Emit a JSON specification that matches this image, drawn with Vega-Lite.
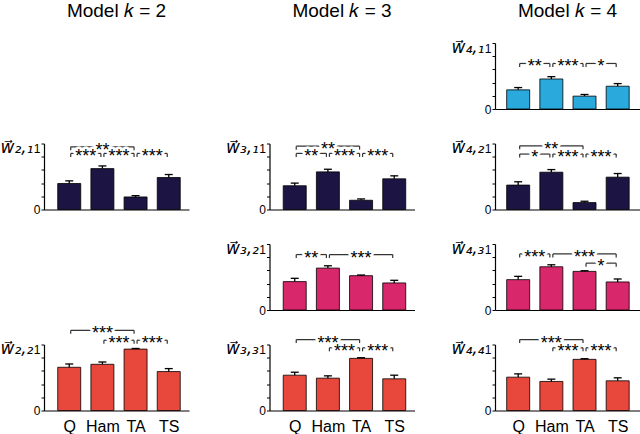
{
  "$schema": "https://vega.github.io/schema/vega-lite/v6.json",
  "padding": {"left": 0, "top": 1.5, "right": 0, "bottom": 0},
  "background": "white",
  "bounds": "flush",
  "columns": 3,
  "spacing": {"row": 34.5, "column": 80.5},
  "datasets": {
    "bars": [
      {"p": "2_1", "m": "Q", "mean": 0.394, "hi": 0.434},
      {"p": "2_1", "m": "Ham", "mean": 0.62, "hi": 0.66},
      {"p": "2_1", "m": "TA", "mean": 0.19, "hi": 0.21},
      {"p": "2_1", "m": "TS", "mean": 0.485, "hi": 0.53},
      {"p": "2_2", "m": "Q", "mean": 0.655, "hi": 0.705},
      {"p": "2_2", "m": "Ham", "mean": 0.70, "hi": 0.735},
      {"p": "2_2", "m": "TA", "mean": 0.93, "hi": 0.94},
      {"p": "2_2", "m": "TS", "mean": 0.59, "hi": 0.635},
      {"p": "3_1", "m": "Q", "mean": 0.36, "hi": 0.40},
      {"p": "3_1", "m": "Ham", "mean": 0.57, "hi": 0.61},
      {"p": "3_1", "m": "TA", "mean": 0.14, "hi": 0.16},
      {"p": "3_1", "m": "TS", "mean": 0.465, "hi": 0.51},
      {"p": "3_2", "m": "Q", "mean": 0.43, "hi": 0.48},
      {"p": "3_2", "m": "Ham", "mean": 0.635, "hi": 0.67},
      {"p": "3_2", "m": "TA", "mean": 0.52, "hi": 0.53},
      {"p": "3_2", "m": "TS", "mean": 0.41, "hi": 0.45},
      {"p": "3_3", "m": "Q", "mean": 0.535, "hi": 0.58},
      {"p": "3_3", "m": "Ham", "mean": 0.49, "hi": 0.525},
      {"p": "3_3", "m": "TA", "mean": 0.79, "hi": 0.80},
      {"p": "3_3", "m": "TS", "mean": 0.48, "hi": 0.535},
      {"p": "4_1", "m": "Q", "mean": 0.29, "hi": 0.325},
      {"p": "4_1", "m": "Ham", "mean": 0.455, "hi": 0.49},
      {"p": "4_1", "m": "TA", "mean": 0.195, "hi": 0.22},
      {"p": "4_1", "m": "TS", "mean": 0.345, "hi": 0.385},
      {"p": "4_2", "m": "Q", "mean": 0.37, "hi": 0.42},
      {"p": "4_2", "m": "Ham", "mean": 0.565, "hi": 0.605},
      {"p": "4_2", "m": "TA", "mean": 0.105, "hi": 0.125},
      {"p": "4_2", "m": "TS", "mean": 0.49, "hi": 0.545},
      {"p": "4_3", "m": "Q", "mean": 0.46, "hi": 0.51},
      {"p": "4_3", "m": "Ham", "mean": 0.655, "hi": 0.685},
      {"p": "4_3", "m": "TA", "mean": 0.585, "hi": 0.595},
      {"p": "4_3", "m": "TS", "mean": 0.425, "hi": 0.47},
      {"p": "4_4", "m": "Q", "mean": 0.505, "hi": 0.555},
      {"p": "4_4", "m": "Ham", "mean": 0.44, "hi": 0.475},
      {"p": "4_4", "m": "TA", "mean": 0.775, "hi": 0.785},
      {"p": "4_4", "m": "TS", "mean": 0.45, "hi": 0.495}
    ],
    "brackets": [
      {"p": "2_1", "a": "Q", "b": "TA", "lvl": 0.95, "s": "**"},
      {"p": "2_1", "a": "Q", "b": "Ham", "lvl": 0.85, "s": "***"},
      {"p": "2_1", "a": "Ham", "b": "TA", "lvl": 0.85, "s": "***"},
      {"p": "2_1", "a": "TA", "b": "TS", "lvl": 0.85, "s": "***"},
      {"p": "2_2", "a": "Q", "b": "TA", "lvl": 1.215, "s": "***"},
      {"p": "2_2", "a": "Ham", "b": "TA", "lvl": 1.065, "s": "***"},
      {"p": "2_2", "a": "TA", "b": "TS", "lvl": 1.065, "s": "***"},
      {"p": "3_1", "a": "Q", "b": "TA", "lvl": 0.96, "s": "**"},
      {"p": "3_1", "a": "Q", "b": "Ham", "lvl": 0.85, "s": "**"},
      {"p": "3_1", "a": "Ham", "b": "TA", "lvl": 0.85, "s": "***"},
      {"p": "3_1", "a": "TA", "b": "TS", "lvl": 0.85, "s": "***"},
      {"p": "3_2", "a": "Q", "b": "Ham", "lvl": 0.84, "s": "**"},
      {"p": "3_2", "a": "Ham", "b": "TS", "lvl": 0.84, "s": "***"},
      {"p": "3_3", "a": "Q", "b": "TA", "lvl": 1.075, "s": "***"},
      {"p": "3_3", "a": "Ham", "b": "TA", "lvl": 0.95, "s": "***"},
      {"p": "3_3", "a": "TA", "b": "TS", "lvl": 0.95, "s": "***"},
      {"p": "4_1", "a": "Q", "b": "Ham", "lvl": 0.69, "s": "**"},
      {"p": "4_1", "a": "Ham", "b": "TA", "lvl": 0.69, "s": "***"},
      {"p": "4_1", "a": "TA", "b": "TS", "lvl": 0.69, "s": "*"},
      {"p": "4_2", "a": "Q", "b": "TA", "lvl": 0.965, "s": "**"},
      {"p": "4_2", "a": "Q", "b": "Ham", "lvl": 0.84, "s": "*"},
      {"p": "4_2", "a": "Ham", "b": "TA", "lvl": 0.84, "s": "***"},
      {"p": "4_2", "a": "TA", "b": "TS", "lvl": 0.84, "s": "***"},
      {"p": "4_3", "a": "Q", "b": "Ham", "lvl": 0.85, "s": "***"},
      {"p": "4_3", "a": "Ham", "b": "TS", "lvl": 0.85, "s": "***"},
      {"p": "4_3", "a": "TA", "b": "TS", "lvl": 0.71, "s": "*"},
      {"p": "4_4", "a": "Q", "b": "TA", "lvl": 1.075, "s": "***"},
      {"p": "4_4", "a": "Ham", "b": "TA", "lvl": 0.95, "s": "***"},
      {"p": "4_4", "a": "TA", "b": "TS", "lvl": 0.95, "s": "***"}
    ]
  },
  "concat": [
    {"width": 145, "height": 1, "data": {"values": [{"z": 1}]}, "mark": {"type": "text", "text": "Model \ud835\udc58 = 2", "fontSize": 19, "baseline": "middle", "dy": 3, "color": "black"}},
    {"width": 145, "height": 1, "data": {"values": [{"z": 1}]}, "mark": {"type": "text", "text": "Model \ud835\udc58 = 3", "fontSize": 19, "baseline": "middle", "dy": 3, "color": "black"}},
    {"width": 145, "height": 1, "data": {"values": [{"z": 1}]}, "mark": {"type": "text", "text": "Model \ud835\udc58 = 4", "fontSize": 19, "baseline": "middle", "dy": 3, "color": "black"}},
    {"width": 145, "height": 66, "data": {"values": [{"z": 1}]}, "mark": {"type": "text", "text": ""}},
    {"width": 145, "height": 66, "data": {"values": [{"z": 1}]}, "mark": {"type": "text", "text": ""}},
    {"width": 145, "height": 66,
     "layer": [
      {"data": {"name": "bars"},
       "transform": [{"filter": "datum.p=='4_1'"}, {"calculate": "indexof(['Q','Ham','TA','TS'],datum.m)+1", "as": "xi"}],
       "encoding": {"x": {"field": "xi", "type": "quantitative", "scale": {"domain": [0.452, 4.522], "nice": false, "zero": false}, "axis": {"title": null}}},
       "layer": [
        {"mark": {"type": "bar", "orient": "vertical", "width": 23, "stroke": "black", "strokeWidth": 0.8, "color": "#29a9dc"},
         "encoding": {"y": {"field": "mean", "type": "quantitative", "scale": {"domain": [0, 1], "nice": false}, "axis": {"title": "w\u20d7\u2084,\u2081"}}}},
        {"mark": {"type": "rule", "color": "black", "strokeWidth": 1.3}, "encoding": {"y": {"field": "mean", "type": "quantitative"}, "y2": {"field": "hi"}}},
        {"mark": {"type": "rule", "color": "black", "strokeWidth": 1.3, "xOffset": -4, "x2Offset": 4}, "encoding": {"x2": {"field": "xi"}, "y": {"field": "hi", "type": "quantitative"}}}
       ]},
      {"data": {"name": "brackets"},
       "transform": [{"filter": "datum.p=='4_1'"}, {"calculate": "indexof(['Q','Ham','TA','TS'],datum.a)+1", "as": "ai"}, {"calculate": "indexof(['Q','Ham','TA','TS'],datum.b)+1", "as": "bi"}, {"calculate": "(datum.ai+datum.bi)/2", "as": "mi"}],
       "encoding": {"y": {"field": "lvl", "type": "quantitative"}},
       "layer": [
        {"mark": {"type": "rule", "xOffset": 1.5, "x2Offset": -1.5}, "encoding": {"x": {"field": "ai", "type": "quantitative"}, "x2": {"field": "bi"}}},
        {"mark": {"type": "rule", "xOffset": 1.5, "y2Offset": 3.5}, "encoding": {"x": {"field": "ai", "type": "quantitative"}, "y2": {"field": "lvl"}}},
        {"mark": {"type": "rule", "xOffset": -1.5, "y2Offset": 3.5}, "encoding": {"x": {"field": "bi", "type": "quantitative"}, "y2": {"field": "lvl"}}},
        {"mark": {"type": "text", "fill": "white", "stroke": "white", "strokeWidth": 5, "strokeJoin": "round"}, "encoding": {"x": {"field": "mi", "type": "quantitative"}, "text": {"field": "s"}}},
        {"mark": {"type": "text", "fill": "black"}, "encoding": {"x": {"field": "mi", "type": "quantitative"}, "text": {"field": "s"}}}
       ]}
     ]},
    {"width": 145, "height": 66,
     "layer": [
      {"data": {"name": "bars"},
       "transform": [{"filter": "datum.p=='2_1'"}, {"calculate": "indexof(['Q','Ham','TA','TS'],datum.m)+1", "as": "xi"}],
       "encoding": {"x": {"field": "xi", "type": "quantitative", "scale": {"domain": [0.39, 4.46], "nice": false, "zero": false}, "axis": {"title": null}}},
       "layer": [
        {"mark": {"type": "bar", "orient": "vertical", "width": 23, "stroke": "black", "strokeWidth": 0.8, "color": "#1c1443"},
         "encoding": {"y": {"field": "mean", "type": "quantitative", "scale": {"domain": [0, 1], "nice": false}, "axis": {"title": "w\u20d7\u2082,\u2081"}}}},
        {"mark": {"type": "rule", "color": "black", "strokeWidth": 1.3}, "encoding": {"y": {"field": "mean", "type": "quantitative"}, "y2": {"field": "hi"}}},
        {"mark": {"type": "rule", "color": "black", "strokeWidth": 1.3, "xOffset": -4, "x2Offset": 4}, "encoding": {"x2": {"field": "xi"}, "y": {"field": "hi", "type": "quantitative"}}}
       ]},
      {"data": {"name": "brackets"},
       "transform": [{"filter": "datum.p=='2_1'"}, {"calculate": "indexof(['Q','Ham','TA','TS'],datum.a)+1", "as": "ai"}, {"calculate": "indexof(['Q','Ham','TA','TS'],datum.b)+1", "as": "bi"}, {"calculate": "(datum.ai+datum.bi)/2", "as": "mi"}],
       "encoding": {"y": {"field": "lvl", "type": "quantitative"}},
       "layer": [
        {"mark": {"type": "rule", "xOffset": 1.5, "x2Offset": -1.5}, "encoding": {"x": {"field": "ai", "type": "quantitative"}, "x2": {"field": "bi"}}},
        {"mark": {"type": "rule", "xOffset": 1.5, "y2Offset": 3.5}, "encoding": {"x": {"field": "ai", "type": "quantitative"}, "y2": {"field": "lvl"}}},
        {"mark": {"type": "rule", "xOffset": -1.5, "y2Offset": 3.5}, "encoding": {"x": {"field": "bi", "type": "quantitative"}, "y2": {"field": "lvl"}}},
        {"mark": {"type": "text", "fill": "white", "stroke": "white", "strokeWidth": 5, "strokeJoin": "round"}, "encoding": {"x": {"field": "mi", "type": "quantitative"}, "text": {"field": "s"}}},
        {"mark": {"type": "text", "fill": "black"}, "encoding": {"x": {"field": "mi", "type": "quantitative"}, "text": {"field": "s"}}}
       ]}
     ]},
    {"width": 145, "height": 66,
     "layer": [
      {"data": {"name": "bars"},
       "transform": [{"filter": "datum.p=='3_1'"}, {"calculate": "indexof(['Q','Ham','TA','TS'],datum.m)+1", "as": "xi"}],
       "encoding": {"x": {"field": "xi", "type": "quantitative", "scale": {"domain": [0.39, 4.46], "nice": false, "zero": false}, "axis": {"title": null}}},
       "layer": [
        {"mark": {"type": "bar", "orient": "vertical", "width": 23, "stroke": "black", "strokeWidth": 0.8, "color": "#1c1443"},
         "encoding": {"y": {"field": "mean", "type": "quantitative", "scale": {"domain": [0, 1], "nice": false}, "axis": {"title": "w\u20d7\u2083,\u2081"}}}},
        {"mark": {"type": "rule", "color": "black", "strokeWidth": 1.3}, "encoding": {"y": {"field": "mean", "type": "quantitative"}, "y2": {"field": "hi"}}},
        {"mark": {"type": "rule", "color": "black", "strokeWidth": 1.3, "xOffset": -4, "x2Offset": 4}, "encoding": {"x2": {"field": "xi"}, "y": {"field": "hi", "type": "quantitative"}}}
       ]},
      {"data": {"name": "brackets"},
       "transform": [{"filter": "datum.p=='3_1'"}, {"calculate": "indexof(['Q','Ham','TA','TS'],datum.a)+1", "as": "ai"}, {"calculate": "indexof(['Q','Ham','TA','TS'],datum.b)+1", "as": "bi"}, {"calculate": "(datum.ai+datum.bi)/2", "as": "mi"}],
       "encoding": {"y": {"field": "lvl", "type": "quantitative"}},
       "layer": [
        {"mark": {"type": "rule", "xOffset": 1.5, "x2Offset": -1.5}, "encoding": {"x": {"field": "ai", "type": "quantitative"}, "x2": {"field": "bi"}}},
        {"mark": {"type": "rule", "xOffset": 1.5, "y2Offset": 3.5}, "encoding": {"x": {"field": "ai", "type": "quantitative"}, "y2": {"field": "lvl"}}},
        {"mark": {"type": "rule", "xOffset": -1.5, "y2Offset": 3.5}, "encoding": {"x": {"field": "bi", "type": "quantitative"}, "y2": {"field": "lvl"}}},
        {"mark": {"type": "text", "fill": "white", "stroke": "white", "strokeWidth": 5, "strokeJoin": "round"}, "encoding": {"x": {"field": "mi", "type": "quantitative"}, "text": {"field": "s"}}},
        {"mark": {"type": "text", "fill": "black"}, "encoding": {"x": {"field": "mi", "type": "quantitative"}, "text": {"field": "s"}}}
       ]}
     ]},
    {"width": 145, "height": 66,
     "layer": [
      {"data": {"name": "bars"},
       "transform": [{"filter": "datum.p=='4_2'"}, {"calculate": "indexof(['Q','Ham','TA','TS'],datum.m)+1", "as": "xi"}],
       "encoding": {"x": {"field": "xi", "type": "quantitative", "scale": {"domain": [0.452, 4.522], "nice": false, "zero": false}, "axis": {"title": null}}},
       "layer": [
        {"mark": {"type": "bar", "orient": "vertical", "width": 23, "stroke": "black", "strokeWidth": 0.8, "color": "#1c1443"},
         "encoding": {"y": {"field": "mean", "type": "quantitative", "scale": {"domain": [0, 1], "nice": false}, "axis": {"title": "w\u20d7\u2084,\u2082"}}}},
        {"mark": {"type": "rule", "color": "black", "strokeWidth": 1.3}, "encoding": {"y": {"field": "mean", "type": "quantitative"}, "y2": {"field": "hi"}}},
        {"mark": {"type": "rule", "color": "black", "strokeWidth": 1.3, "xOffset": -4, "x2Offset": 4}, "encoding": {"x2": {"field": "xi"}, "y": {"field": "hi", "type": "quantitative"}}}
       ]},
      {"data": {"name": "brackets"},
       "transform": [{"filter": "datum.p=='4_2'"}, {"calculate": "indexof(['Q','Ham','TA','TS'],datum.a)+1", "as": "ai"}, {"calculate": "indexof(['Q','Ham','TA','TS'],datum.b)+1", "as": "bi"}, {"calculate": "(datum.ai+datum.bi)/2", "as": "mi"}],
       "encoding": {"y": {"field": "lvl", "type": "quantitative"}},
       "layer": [
        {"mark": {"type": "rule", "xOffset": 1.5, "x2Offset": -1.5}, "encoding": {"x": {"field": "ai", "type": "quantitative"}, "x2": {"field": "bi"}}},
        {"mark": {"type": "rule", "xOffset": 1.5, "y2Offset": 3.5}, "encoding": {"x": {"field": "ai", "type": "quantitative"}, "y2": {"field": "lvl"}}},
        {"mark": {"type": "rule", "xOffset": -1.5, "y2Offset": 3.5}, "encoding": {"x": {"field": "bi", "type": "quantitative"}, "y2": {"field": "lvl"}}},
        {"mark": {"type": "text", "fill": "white", "stroke": "white", "strokeWidth": 5, "strokeJoin": "round"}, "encoding": {"x": {"field": "mi", "type": "quantitative"}, "text": {"field": "s"}}},
        {"mark": {"type": "text", "fill": "black"}, "encoding": {"x": {"field": "mi", "type": "quantitative"}, "text": {"field": "s"}}}
       ]}
     ]},
    {"width": 145, "height": 66, "data": {"values": [{"z": 1}]}, "mark": {"type": "text", "text": ""}},
    {"width": 145, "height": 66,
     "layer": [
      {"data": {"name": "bars"},
       "transform": [{"filter": "datum.p=='3_2'"}, {"calculate": "indexof(['Q','Ham','TA','TS'],datum.m)+1", "as": "xi"}],
       "encoding": {"x": {"field": "xi", "type": "quantitative", "scale": {"domain": [0.39, 4.46], "nice": false, "zero": false}, "axis": {"title": null}}},
       "layer": [
        {"mark": {"type": "bar", "orient": "vertical", "width": 23, "stroke": "black", "strokeWidth": 0.8, "color": "#d8276b"},
         "encoding": {"y": {"field": "mean", "type": "quantitative", "scale": {"domain": [0, 1], "nice": false}, "axis": {"title": "w\u20d7\u2083,\u2082"}}}},
        {"mark": {"type": "rule", "color": "black", "strokeWidth": 1.3}, "encoding": {"y": {"field": "mean", "type": "quantitative"}, "y2": {"field": "hi"}}},
        {"mark": {"type": "rule", "color": "black", "strokeWidth": 1.3, "xOffset": -4, "x2Offset": 4}, "encoding": {"x2": {"field": "xi"}, "y": {"field": "hi", "type": "quantitative"}}}
       ]},
      {"data": {"name": "brackets"},
       "transform": [{"filter": "datum.p=='3_2'"}, {"calculate": "indexof(['Q','Ham','TA','TS'],datum.a)+1", "as": "ai"}, {"calculate": "indexof(['Q','Ham','TA','TS'],datum.b)+1", "as": "bi"}, {"calculate": "(datum.ai+datum.bi)/2", "as": "mi"}],
       "encoding": {"y": {"field": "lvl", "type": "quantitative"}},
       "layer": [
        {"mark": {"type": "rule", "xOffset": 1.5, "x2Offset": -1.5}, "encoding": {"x": {"field": "ai", "type": "quantitative"}, "x2": {"field": "bi"}}},
        {"mark": {"type": "rule", "xOffset": 1.5, "y2Offset": 3.5}, "encoding": {"x": {"field": "ai", "type": "quantitative"}, "y2": {"field": "lvl"}}},
        {"mark": {"type": "rule", "xOffset": -1.5, "y2Offset": 3.5}, "encoding": {"x": {"field": "bi", "type": "quantitative"}, "y2": {"field": "lvl"}}},
        {"mark": {"type": "text", "fill": "white", "stroke": "white", "strokeWidth": 5, "strokeJoin": "round"}, "encoding": {"x": {"field": "mi", "type": "quantitative"}, "text": {"field": "s"}}},
        {"mark": {"type": "text", "fill": "black"}, "encoding": {"x": {"field": "mi", "type": "quantitative"}, "text": {"field": "s"}}}
       ]}
     ]},
    {"width": 145, "height": 66,
     "layer": [
      {"data": {"name": "bars"},
       "transform": [{"filter": "datum.p=='4_3'"}, {"calculate": "indexof(['Q','Ham','TA','TS'],datum.m)+1", "as": "xi"}],
       "encoding": {"x": {"field": "xi", "type": "quantitative", "scale": {"domain": [0.452, 4.522], "nice": false, "zero": false}, "axis": {"title": null}}},
       "layer": [
        {"mark": {"type": "bar", "orient": "vertical", "width": 23, "stroke": "black", "strokeWidth": 0.8, "color": "#d8276b"},
         "encoding": {"y": {"field": "mean", "type": "quantitative", "scale": {"domain": [0, 1], "nice": false}, "axis": {"title": "w\u20d7\u2084,\u2083"}}}},
        {"mark": {"type": "rule", "color": "black", "strokeWidth": 1.3}, "encoding": {"y": {"field": "mean", "type": "quantitative"}, "y2": {"field": "hi"}}},
        {"mark": {"type": "rule", "color": "black", "strokeWidth": 1.3, "xOffset": -4, "x2Offset": 4}, "encoding": {"x2": {"field": "xi"}, "y": {"field": "hi", "type": "quantitative"}}}
       ]},
      {"data": {"name": "brackets"},
       "transform": [{"filter": "datum.p=='4_3'"}, {"calculate": "indexof(['Q','Ham','TA','TS'],datum.a)+1", "as": "ai"}, {"calculate": "indexof(['Q','Ham','TA','TS'],datum.b)+1", "as": "bi"}, {"calculate": "(datum.ai+datum.bi)/2", "as": "mi"}],
       "encoding": {"y": {"field": "lvl", "type": "quantitative"}},
       "layer": [
        {"mark": {"type": "rule", "xOffset": 1.5, "x2Offset": -1.5}, "encoding": {"x": {"field": "ai", "type": "quantitative"}, "x2": {"field": "bi"}}},
        {"mark": {"type": "rule", "xOffset": 1.5, "y2Offset": 3.5}, "encoding": {"x": {"field": "ai", "type": "quantitative"}, "y2": {"field": "lvl"}}},
        {"mark": {"type": "rule", "xOffset": -1.5, "y2Offset": 3.5}, "encoding": {"x": {"field": "bi", "type": "quantitative"}, "y2": {"field": "lvl"}}},
        {"mark": {"type": "text", "fill": "white", "stroke": "white", "strokeWidth": 5, "strokeJoin": "round"}, "encoding": {"x": {"field": "mi", "type": "quantitative"}, "text": {"field": "s"}}},
        {"mark": {"type": "text", "fill": "black"}, "encoding": {"x": {"field": "mi", "type": "quantitative"}, "text": {"field": "s"}}}
       ]}
     ]},
    {"width": 145, "height": 66,
     "layer": [
      {"data": {"name": "bars"},
       "transform": [{"filter": "datum.p=='2_2'"}, {"calculate": "indexof(['Q','Ham','TA','TS'],datum.m)+1", "as": "xi"}],
       "encoding": {"x": {"field": "xi", "type": "quantitative", "scale": {"domain": [0.39, 4.46], "nice": false, "zero": false}, "axis": {"title": null, "labels": true, "values": [1, 2, 3, 4], "labelExpr": "['','Q','Ham','TA','TS'][datum.value]"}}},
       "layer": [
        {"mark": {"type": "bar", "orient": "vertical", "width": 23, "stroke": "black", "strokeWidth": 0.8, "color": "#e8473b"},
         "encoding": {"y": {"field": "mean", "type": "quantitative", "scale": {"domain": [0, 1], "nice": false}, "axis": {"title": "w\u20d7\u2082,\u2082"}}}},
        {"mark": {"type": "rule", "color": "black", "strokeWidth": 1.3}, "encoding": {"y": {"field": "mean", "type": "quantitative"}, "y2": {"field": "hi"}}},
        {"mark": {"type": "rule", "color": "black", "strokeWidth": 1.3, "xOffset": -4, "x2Offset": 4}, "encoding": {"x2": {"field": "xi"}, "y": {"field": "hi", "type": "quantitative"}}}
       ]},
      {"data": {"name": "brackets"},
       "transform": [{"filter": "datum.p=='2_2'"}, {"calculate": "indexof(['Q','Ham','TA','TS'],datum.a)+1", "as": "ai"}, {"calculate": "indexof(['Q','Ham','TA','TS'],datum.b)+1", "as": "bi"}, {"calculate": "(datum.ai+datum.bi)/2", "as": "mi"}],
       "encoding": {"y": {"field": "lvl", "type": "quantitative"}},
       "layer": [
        {"mark": {"type": "rule", "xOffset": 1.5, "x2Offset": -1.5}, "encoding": {"x": {"field": "ai", "type": "quantitative"}, "x2": {"field": "bi"}}},
        {"mark": {"type": "rule", "xOffset": 1.5, "y2Offset": 3.5}, "encoding": {"x": {"field": "ai", "type": "quantitative"}, "y2": {"field": "lvl"}}},
        {"mark": {"type": "rule", "xOffset": -1.5, "y2Offset": 3.5}, "encoding": {"x": {"field": "bi", "type": "quantitative"}, "y2": {"field": "lvl"}}},
        {"mark": {"type": "text", "fill": "white", "stroke": "white", "strokeWidth": 5, "strokeJoin": "round"}, "encoding": {"x": {"field": "mi", "type": "quantitative"}, "text": {"field": "s"}}},
        {"mark": {"type": "text", "fill": "black"}, "encoding": {"x": {"field": "mi", "type": "quantitative"}, "text": {"field": "s"}}}
       ]}
     ]},
    {"width": 145, "height": 66,
     "layer": [
      {"data": {"name": "bars"},
       "transform": [{"filter": "datum.p=='3_3'"}, {"calculate": "indexof(['Q','Ham','TA','TS'],datum.m)+1", "as": "xi"}],
       "encoding": {"x": {"field": "xi", "type": "quantitative", "scale": {"domain": [0.39, 4.46], "nice": false, "zero": false}, "axis": {"title": null, "labels": true, "values": [1, 2, 3, 4], "labelExpr": "['','Q','Ham','TA','TS'][datum.value]"}}},
       "layer": [
        {"mark": {"type": "bar", "orient": "vertical", "width": 23, "stroke": "black", "strokeWidth": 0.8, "color": "#e8473b"},
         "encoding": {"y": {"field": "mean", "type": "quantitative", "scale": {"domain": [0, 1], "nice": false}, "axis": {"title": "w\u20d7\u2083,\u2083"}}}},
        {"mark": {"type": "rule", "color": "black", "strokeWidth": 1.3}, "encoding": {"y": {"field": "mean", "type": "quantitative"}, "y2": {"field": "hi"}}},
        {"mark": {"type": "rule", "color": "black", "strokeWidth": 1.3, "xOffset": -4, "x2Offset": 4}, "encoding": {"x2": {"field": "xi"}, "y": {"field": "hi", "type": "quantitative"}}}
       ]},
      {"data": {"name": "brackets"},
       "transform": [{"filter": "datum.p=='3_3'"}, {"calculate": "indexof(['Q','Ham','TA','TS'],datum.a)+1", "as": "ai"}, {"calculate": "indexof(['Q','Ham','TA','TS'],datum.b)+1", "as": "bi"}, {"calculate": "(datum.ai+datum.bi)/2", "as": "mi"}],
       "encoding": {"y": {"field": "lvl", "type": "quantitative"}},
       "layer": [
        {"mark": {"type": "rule", "xOffset": 1.5, "x2Offset": -1.5}, "encoding": {"x": {"field": "ai", "type": "quantitative"}, "x2": {"field": "bi"}}},
        {"mark": {"type": "rule", "xOffset": 1.5, "y2Offset": 3.5}, "encoding": {"x": {"field": "ai", "type": "quantitative"}, "y2": {"field": "lvl"}}},
        {"mark": {"type": "rule", "xOffset": -1.5, "y2Offset": 3.5}, "encoding": {"x": {"field": "bi", "type": "quantitative"}, "y2": {"field": "lvl"}}},
        {"mark": {"type": "text", "fill": "white", "stroke": "white", "strokeWidth": 5, "strokeJoin": "round"}, "encoding": {"x": {"field": "mi", "type": "quantitative"}, "text": {"field": "s"}}},
        {"mark": {"type": "text", "fill": "black"}, "encoding": {"x": {"field": "mi", "type": "quantitative"}, "text": {"field": "s"}}}
       ]}
     ]},
    {"width": 145, "height": 66,
     "layer": [
      {"data": {"name": "bars"},
       "transform": [{"filter": "datum.p=='4_4'"}, {"calculate": "indexof(['Q','Ham','TA','TS'],datum.m)+1", "as": "xi"}],
       "encoding": {"x": {"field": "xi", "type": "quantitative", "scale": {"domain": [0.452, 4.522], "nice": false, "zero": false}, "axis": {"title": null, "labels": true, "values": [1, 2, 3, 4], "labelExpr": "['','Q','Ham','TA','TS'][datum.value]"}}},
       "layer": [
        {"mark": {"type": "bar", "orient": "vertical", "width": 23, "stroke": "black", "strokeWidth": 0.8, "color": "#e8473b"},
         "encoding": {"y": {"field": "mean", "type": "quantitative", "scale": {"domain": [0, 1], "nice": false}, "axis": {"title": "w\u20d7\u2084,\u2084"}}}},
        {"mark": {"type": "rule", "color": "black", "strokeWidth": 1.3}, "encoding": {"y": {"field": "mean", "type": "quantitative"}, "y2": {"field": "hi"}}},
        {"mark": {"type": "rule", "color": "black", "strokeWidth": 1.3, "xOffset": -4, "x2Offset": 4}, "encoding": {"x2": {"field": "xi"}, "y": {"field": "hi", "type": "quantitative"}}}
       ]},
      {"data": {"name": "brackets"},
       "transform": [{"filter": "datum.p=='4_4'"}, {"calculate": "indexof(['Q','Ham','TA','TS'],datum.a)+1", "as": "ai"}, {"calculate": "indexof(['Q','Ham','TA','TS'],datum.b)+1", "as": "bi"}, {"calculate": "(datum.ai+datum.bi)/2", "as": "mi"}],
       "encoding": {"y": {"field": "lvl", "type": "quantitative"}},
       "layer": [
        {"mark": {"type": "rule", "xOffset": 1.5, "x2Offset": -1.5}, "encoding": {"x": {"field": "ai", "type": "quantitative"}, "x2": {"field": "bi"}}},
        {"mark": {"type": "rule", "xOffset": 1.5, "y2Offset": 3.5}, "encoding": {"x": {"field": "ai", "type": "quantitative"}, "y2": {"field": "lvl"}}},
        {"mark": {"type": "rule", "xOffset": -1.5, "y2Offset": 3.5}, "encoding": {"x": {"field": "bi", "type": "quantitative"}, "y2": {"field": "lvl"}}},
        {"mark": {"type": "text", "fill": "white", "stroke": "white", "strokeWidth": 5, "strokeJoin": "round"}, "encoding": {"x": {"field": "mi", "type": "quantitative"}, "text": {"field": "s"}}},
        {"mark": {"type": "text", "fill": "black"}, "encoding": {"x": {"field": "mi", "type": "quantitative"}, "text": {"field": "s"}}}
       ]}
     ]}
  ],
  "config": {
    "view": {"stroke": null},
    "font": "Liberation Sans",
    "rule": {"color": "#333333", "strokeWidth": 1.2},
    "text": {"font": "Liberation Sans", "fontSize": 18, "baseline": "alphabetic", "align": "center", "dy": 9},
    "axis": {"grid": false, "domainColor": "black", "domainWidth": 1.2, "tickColor": "black", "labelColor": "black", "labelFont": "Liberation Sans", "labelFlush": false, "labelOverlap": false},
    "axisX": {"ticks": false, "labels": false, "labelFontSize": 16, "labelPadding": 8},
    "axisY": {"tickSize": 3, "tickCount": 5, "labelFontSize": 12, "labelPadding": 1,
      "labelExpr": "datum.value == 0 ? '0' : datum.value == 1 ? '1' : ''",
      "labelBaseline": {"condition": {"test": "datum.value == 1", "value": "top"}, "value": "middle"},
      "titleAngle": 0, "titleAlign": "left", "titleBaseline": "alphabetic", "titleX": -44, "titleY": 9,
      "titleFont": "DejaVu Sans", "titleFontSize": 17, "titleFontStyle": "italic", "titleFontWeight": "normal", "titleColor": "black"}
  }
}
